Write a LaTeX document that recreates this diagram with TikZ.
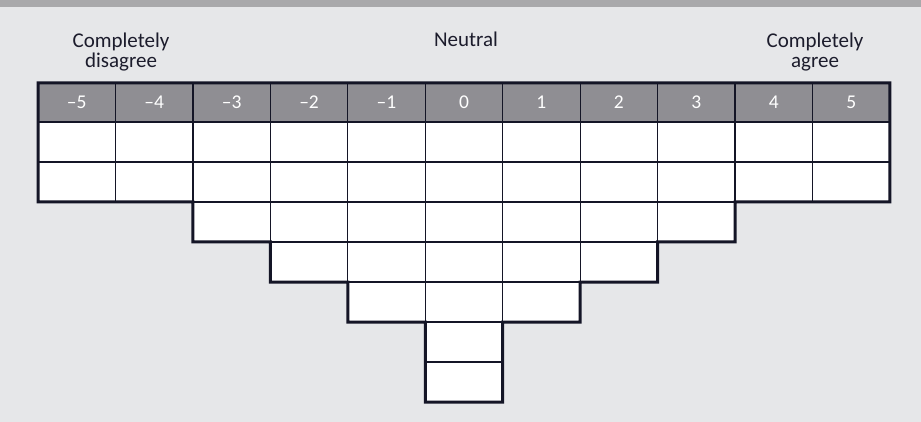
\documentclass[tikz,border=0pt]{standalone}
\usepackage{fontspec}
\setmainfont{Carlito}
\definecolor{bggray}{HTML}{E6E7E9}
\definecolor{bargray}{HTML}{A9A9AB}
\definecolor{headgray}{HTML}{8F8E93}
\definecolor{linec}{HTML}{141526}
\definecolor{textc}{HTML}{1C1C2C}
\tikzset{
  headcell/.style={draw=linec, line width=1.2pt, fill=headgray, text=white,
    minimum width=77.45pt, minimum height=39pt, inner sep=0pt, outer sep=0pt,
    font=\fontsize{19.5}{19.5}\selectfont},
  sortcell/.style={draw=linec, line width=1.2pt, fill=white,
    minimum width=77.45pt, minimum height=40pt, inner sep=0pt, outer sep=0pt},
  scaletext/.style={text=textc, align=center, inner sep=0pt,
    font=\fontsize{21}{20}\selectfont},
}
\begin{document}
\begin{tikzpicture}[x=1pt,y=-1pt]
    \useasboundingbox (0,0) rectangle (921,422);
    \fill[bggray] (0,0) rectangle (921,422);
    \fill[bargray] (0,0) rectangle (921,7);

    \node (disagree) [scaletext, anchor=north] at (121,33) {Completely\\disagree};
    \node (neutral) [scaletext, anchor=base] at (466,47) {Neutral};
    \node (agree) [scaletext, anchor=north] at (815,33) {Completely\\agree};

    \foreach \v [count=\i] in {–5,–4,–3,–2,–1,0,1,2,3,4,5}
        \node (h\i) [headcell] at ({38+77.45*(\i-0.5)},102.5) {\v};

    \foreach \n [count=\i] in {2,2,3,4,5,7,5,4,3,2,2}
        \foreach \j in {1,...,\n}
            \node (c\i-\j) [sortcell] at ({38+77.45*(\i-0.5)},{122+40*(\j-0.5)}) {};

    \draw[linec, line width=3pt]
    (h1.north west) -- (h11.north east) -- (c11-2.south east)
    -- (c10-2.south west) -- (c9-3.south east) -- (c9-3.south west)
    -- (c8-4.south east) -- (c8-4.south west) -- (c7-5.south east)
    -- (c7-5.south west) -- (c6-7.south east) -- (c6-7.south west)
    -- (c5-5.south east) -- (c5-5.south west) -- (c4-4.south east)
    -- (c4-4.south west) -- (c3-3.south east) -- (c3-3.south west)
    -- (c2-2.south east) -- (c1-2.south west) -- cycle;
\end{tikzpicture}
\end{document}
